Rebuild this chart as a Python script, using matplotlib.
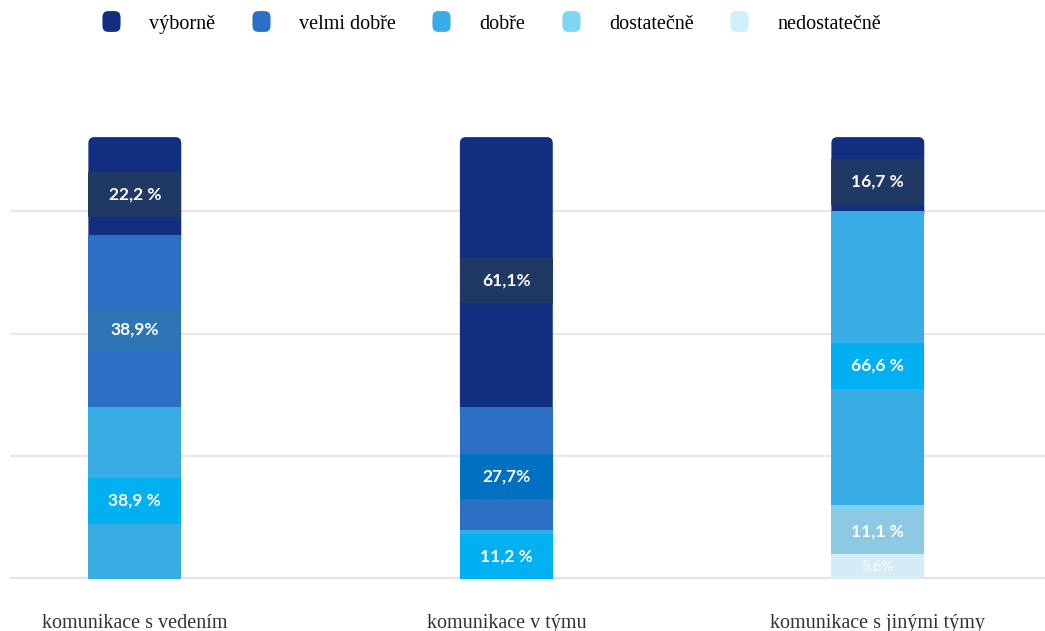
import numpy as np
import matplotlib
matplotlib.use("Agg")
import matplotlib.pyplot as plt
from matplotlib.patches import FancyBboxPatch
from matplotlib.lines import Line2D
from matplotlib.path import Path

# ---- data (percent of respondents, n = 18) ----
categories = ["komunikace s vedením", "komunikace v týmu", "komunikace s jinými týmy"]
levels = ["výborně", "velmi dobře", "dobře", "dostatečně", "nedostatečně"]
respondents = 18

vyborne = [22.2, 61.1, 16.7]
velmi_dobre = [38.9, 27.7, 0.0]
dobre = [38.9, 11.2, 66.6]
dostatecne = [0.0, 0.0, 11.1]
nedostatecne = [0.0, 0.0, 5.6]

labels_vyborne = ["22,2 %", "61,1%", "16,7 %"]
labels_velmi_dobre = ["38,9%", "27,7%", ""]
labels_dobre = ["38,9 %", "11,2 %", "66,6 %"]
labels_dostatecne = ["", "", "11,1 %"]
labels_nedostatecne = ["", "", "5,6%"]

# ---- styling ----
level_colors = ["#112e80", "#2b70c4", "#38ace4", "#7fd3f2", "#d5ebf6"]
legend_colors = ["#112e80", "#2b70c4", "#38ace4", "#7fd6f3", "#cdf0fb"]
box_colors = [
    ["#203864", "#203864", "#203864"],
    ["#2e75b6", "#0070c0", None],
    ["#00b0f0", "#00b0f0", "#00b0f0"],
    [None, None, "#8ec9e3"],
    [None, None, None],
]
text_colors = ["white", "white", "white", "white", "#f1f7fb"]
text_sizes = [12.5, 12.5, 12.5, 12.5, 10.5]

series = [vyborne, velmi_dobre, dobre, dostatecne, nedostatecne]
series_labels = [labels_vyborne, labels_velmi_dobre, labels_dobre,
                 labels_dostatecne, labels_nedostatecne]

W, H = 1045, 631
fig = plt.figure(figsize=(W / 100, H / 100), dpi=100)
fig.patch.set_facecolor("white")
ax = fig.add_axes([10 / W, 52 / H, 1 - 10 / W, 479 / H])

x = np.arange(len(categories))
bar_w = 0.25
ax.set_xlim(-0.336, 2.45)
ax.set_ylim(0, 108.4)

# stack from the bottom: nedostatečně ... výborně
bottoms = np.zeros(len(categories))
stack_info = {}
for li in range(len(levels) - 1, -1, -1):
    vals = np.array(series[li], dtype=float)
    stack_info[li] = (bottoms.copy(), vals)
    if li == 0:
        # top segment with rounded upper corners
        for i in range(len(categories)):
            b = bottoms[i]
            h = vals[i]
            patch = FancyBboxPatch(
                (x[i] - bar_w / 2, b - 2), bar_w, h + 2,
                boxstyle="round,pad=0,rounding_size=0.016",
                mutation_aspect=85,
                facecolor=level_colors[li], edgecolor="none", zorder=2)
            ax.add_patch(patch)
    else:
        ax.bar(x, vals, bar_w, bottom=bottoms, color=level_colors[li],
               edgecolor="none", zorder=3)
    bottoms = bottoms + vals

# value labels in coloured boxes, sitting slightly below segment centres
box_h = 10.2
label_drop = 1.8
for li in range(len(levels)):
    b, vals = stack_info[li]
    for i in range(len(categories)):
        if vals[i] <= 0 or not series_labels[li][i]:
            continue
        hh = min(box_h, vals[i])
        yc = b[i] + vals[i] / 2 - label_drop
        yc = min(max(yc, b[i] + hh / 2), b[i] + vals[i] - hh / 2)
        bc = box_colors[li][i]
        if bc is not None:
            ax.bar(x[i], hh, bar_w, bottom=yc - hh / 2, color=bc,
                   edgecolor="none", zorder=4)
        ax.text(x[i], yc, series_labels[li][i], ha="center", va="center",
                color=text_colors[li], fontsize=text_sizes[li],
                fontweight="bold", family="Lato", zorder=5)

# grid and axes
grid_step = 100 * 5 / respondents
ax.set_yticks([grid_step * k for k in range(1, 4)])
ax.yaxis.grid(True, color="#e8e8ec", linewidth=1.6)
ax.set_axisbelow(True)
ax.tick_params(axis="y", length=0, labelleft=False)
ax.axhline(0, color="#dfe2f0", linewidth=3, zorder=1)
for s in ax.spines.values():
    s.set_visible(False)

ax.set_xticks(x)
ax.set_xticklabels(categories, family="Liberation Serif", fontsize=14.5,
                   color="#333333")
ax.tick_params(axis="x", length=0, pad=25)

# legend with rounded-square markers
t = np.linspace(0, 2 * np.pi, 80)
mx = np.sign(np.cos(t)) * np.abs(np.cos(t)) ** 0.5
my = np.sign(np.sin(t)) * np.abs(np.sin(t)) ** 0.5 * 1.15
marker_path = Path(np.column_stack([mx, my]))
handles = [Line2D([], [], linestyle="none", marker=marker_path, markersize=15,
                  markerfacecolor=c, markeredgecolor="none")
           for c in legend_colors]
fig.legend(handles, levels, loc="center", bbox_to_anchor=(491 / W, 1 - 24 / H),
           ncol=5, frameon=False, handlelength=1.0, handletextpad=1.4,
           columnspacing=1.75, prop={"family": "Liberation Serif", "size": 14.5})

fig.savefig("out.png", dpi=100, facecolor="white")
